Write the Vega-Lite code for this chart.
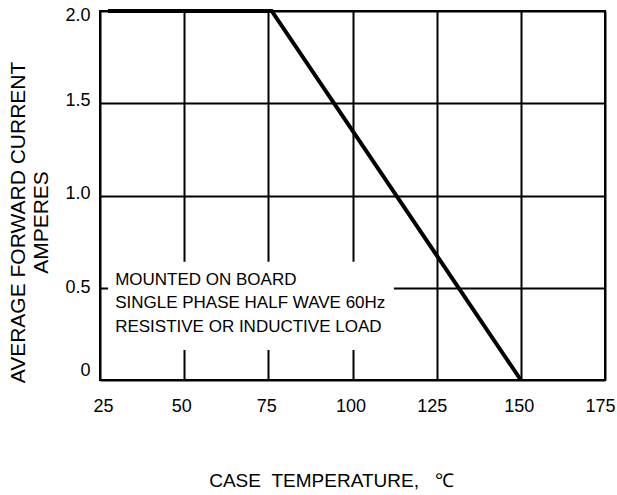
{
  "$schema": "https://vega.github.io/schema/vega-lite/v6.json",
  "width": 505,
  "height": 369,
  "autosize": "none",
  "padding": {"left": 100, "top": 11, "right": 12, "bottom": 115},
  "background": "white",
  "config": {
    "view": {"stroke": "black", "strokeWidth": 2},
    "font": "Liberation Sans",
    "axis": {
      "grid": true,
      "gridColor": "black",
      "gridWidth": 2,
      "gridOpacity": 1,
      "ticks": false,
      "domain": false,
      "labelColor": "black",
      "labelFont": "Liberation Sans",
      "labelFontSize": 18,
      "titleColor": "black",
      "titleFont": "Liberation Sans",
      "titleFontWeight": "normal"
    }
  },
  "datasets": {
    "curve": [
      {"temp": 27.4, "current": 2.0},
      {"temp": 76, "current": 2.0},
      {"temp": 150, "current": 0}
    ],
    "box": [
      {"x1": 27.4, "x2": 112.3, "y1": 0.163, "y2": 0.641}
    ],
    "notes": [
      {"temp": 29.5, "current": 0.543, "text": "MOUNTED ON BOARD"},
      {"temp": 29.5, "current": 0.418, "text": "SINGLE PHASE HALF WAVE 60Hz"},
      {"temp": 29.5, "current": 0.288, "text": "RESISTIVE OR INDUCTIVE LOAD"}
    ]
  },
  "layer": [
    {
      "data": {"name": "box"},
      "mark": {"type": "rect", "fill": "white", "stroke": null},
      "encoding": {
        "x": {
          "field": "x1",
          "type": "quantitative",
          "scale": {"domain": [25, 175], "nice": false, "zero": false},
          "axis": {
            "values": [25, 50, 75, 100, 125, 150, 175],
            "labelPadding": 17,
            "labelFlush": false,
            "labelOffset": {"condition": [{"test": "datum.value == 175", "value": -5}, {"test": "datum.value == 25", "value": 3}, {"test": "datum.value == 50", "value": -3}, {"test": "datum.value == 125", "value": -5}], "value": -2},
            "title": "CASE\u00a0\u00a0TEMPERATURE,\u00a0\u00a0\u00a0℃",
            "titleFontSize": 19,
            "titleBaseline": "top",
            "titleX": 231,
            "titleY": 91
          }
        },
        "x2": {"field": "x2"},
        "y": {
          "field": "y1",
          "type": "quantitative",
          "scale": {"domain": [0, 2], "nice": false},
          "axis": {
            "values": [0, 0.5, 1, 1.5, 2],
            "labelExpr": "datum.value == 0 ? '0' : format(datum.value, '.1f')",
            "labelPadding": 10,
            "labelFlush": false,
            "labelOffset": {"condition": [{"test": "datum.value == 0", "value": -10}, {"test": "datum.value == 2", "value": 4}, {"test": "datum.value == 1.5", "value": -3}, {"test": "datum.value == 1", "value": -2}], "value": 0},
            "title": ["AVERAGE FORWARD CURRENT", "AMPERES"],
            "titleFontSize": 21,
            "titleLineHeight": 23,
            "titleBaseline": "middle",
            "titleX": -82,
            "titleY": 211
          }
        },
        "y2": {"field": "y2"}
      }
    },
    {
      "data": {"name": "notes"},
      "mark": {"type": "text", "align": "left", "baseline": "middle", "font": "Liberation Sans", "fontSize": 17, "color": "black"},
      "encoding": {
        "x": {"field": "temp", "type": "quantitative"},
        "y": {"field": "current", "type": "quantitative"},
        "text": {"field": "text"}
      }
    },
    {
      "data": {"name": "curve"},
      "mark": {"type": "line", "stroke": "black", "strokeWidth": 4},
      "encoding": {
        "x": {"field": "temp", "type": "quantitative"},
        "y": {"field": "current", "type": "quantitative"}
      }
    }
  ]
}
